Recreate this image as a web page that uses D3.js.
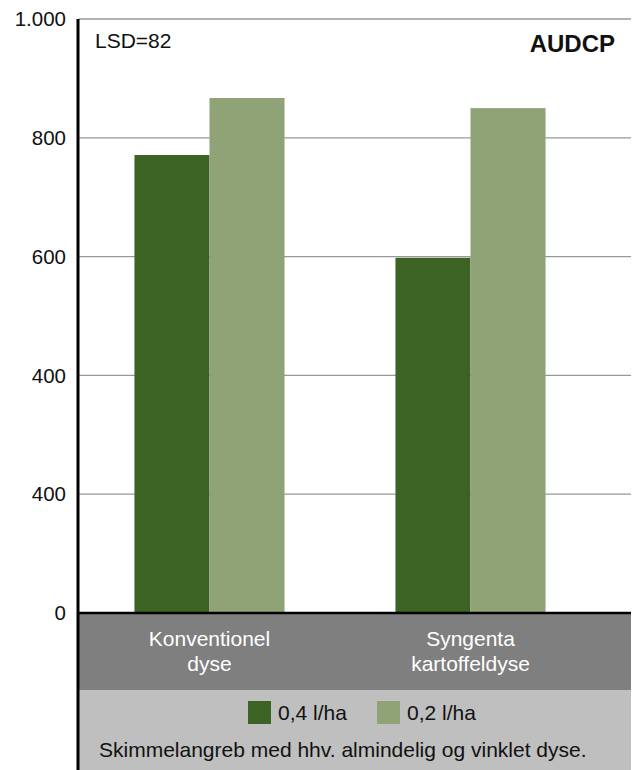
<!DOCTYPE html>
<html>
<head>
<meta charset="utf-8">
<script src="https://cdn.jsdelivr.net/npm/d3@7"></script>
<style>
  body { margin: 0; background: #fff; }
  text { font-family: "Liberation Sans", Arial, sans-serif; }
</style>
</head>
<body>
<div id="chart"></div>
<script>
// Chart data
var categories = [["Konventionel", "dyse"], ["Syngenta", "kartoffeldyse"]];
var seriesNames = ["0,4 l/ha", "0,2 l/ha"];
var dose04 = [771, 598];
var dose02 = [867, 850];
var tickValues = [0, 200, 400, 600, 800, 1000];
var tickLabels = ["0", "400", "400", "600", "800", "1.000"];

var svgWidth = 638;
var svgHeight = 770;
var colors = ["#3c6323", "#8fa377"];

var svg = d3.select("#chart")
    .append("svg")
    .attr("width", svgWidth)
    .attr("height", svgHeight);

// Scales
var yScale = d3.scaleLinear()
    .domain([0, 1000])
    .range([613, 19]);

var xScale = d3.scaleBand()
    .domain(d3.range(categories.length))
    .range([79, 601])
    .paddingInner(0.425)
    .paddingOuter(0.2125);

var xSub = d3.scaleBand()
    .domain([0, 1])
    .range([0, xScale.bandwidth()]);

var plotRight = 631;

// Gridlines
svg.append("g")
    .selectAll("line")
    .data(tickValues.slice(1))
    .enter()
    .append("line")
    .attr("x1", 79)
    .attr("x2", plotRight)
    .attr("y1", d => yScale(d))
    .attr("y2", d => yScale(d))
    .attr("stroke", "#999")
    .attr("stroke-width", 1.3);

// Bars
var rows = categories.map((c, i) => [dose04[i], dose02[i]]);
var groups = svg.selectAll(".grp")
    .data(rows)
    .enter()
    .append("g")
    .attr("transform", (d, i) => `translate(${xScale(i)},0)`);

groups.selectAll("rect")
    .data(d => d)
    .enter()
    .append("rect")
    .attr("x", (d, j) => xSub(j))
    .attr("width", xSub.bandwidth())
    .attr("y", d => yScale(d))
    .attr("height", d => yScale(0) - yScale(d))
    .attr("fill", (d, j) => colors[j]);

// Category band and legend band
svg.append("rect")
    .attr("x", 79).attr("y", 613)
    .attr("width", plotRight - 79).attr("height", 77)
    .attr("fill", "#7f7f7f");
svg.append("rect")
    .attr("x", 79).attr("y", 690)
    .attr("width", plotRight - 79).attr("height", 80)
    .attr("fill", "#bfbfbf");

// Zero line and y axis line
svg.append("line")
    .attr("x1", 78).attr("x2", plotRight)
    .attr("y1", yScale(0)).attr("y2", yScale(0))
    .attr("stroke", "#000").attr("stroke-width", 2.5);
svg.append("line")
    .attr("x1", 78).attr("x2", 78)
    .attr("y1", yScale(1000)).attr("y2", svgHeight)
    .attr("stroke", "#000").attr("stroke-width", 3);

// Y tick labels
svg.append("g")
    .selectAll("text")
    .data(tickValues)
    .enter()
    .append("text")
    .attr("x", 66)
    .attr("y", d => yScale(d))
    .attr("dy", "0.35em")
    .attr("text-anchor", "end")
    .style("font-size", "20.5px")
    .attr("fill", "#111")
    .text((d, i) => tickLabels[i]);

// Category labels
var catText = svg.append("g")
    .selectAll("text")
    .data(categories)
    .enter()
    .append("text")
    .attr("x", (d, i) => xScale(i) + xScale.bandwidth() / 2)
    .attr("y", 646)
    .attr("text-anchor", "middle")
    .attr("fill", "#fff")
    .style("font-size", "21px");
catText.selectAll("tspan")
    .data(d => d)
    .enter()
    .append("tspan")
    .attr("x", function () { return d3.select(this.parentNode).attr("x"); })
    .attr("dy", (d, k) => k === 0 ? 0 : 25)
    .text(d => d);

// Legend
var legendX = [248, 377];
var legend = svg.selectAll(".leg")
    .data(seriesNames)
    .enter()
    .append("g")
    .attr("transform", (d, i) => `translate(${legendX[i]},701)`);
legend.append("rect")
    .attr("width", 23).attr("height", 23)
    .attr("fill", (d, i) => colors[i]);
legend.append("text")
    .attr("x", 30).attr("y", 12)
    .attr("dy", "0.35em")
    .style("font-size", "21px")
    .attr("fill", "#111")
    .text(d => d);

// Footer note
svg.append("text")
    .attr("x", 99).attr("y", 757)
    .style("font-size", "21px")
    .attr("fill", "#111")
    .text("Skimmelangreb med hhv. almindelig og vinklet dyse.");

// Annotations
svg.append("text")
    .attr("x", 95).attr("y", 48)
    .style("font-size", "21px")
    .attr("fill", "#111")
    .text("LSD=82");
svg.append("text")
    .attr("x", 615).attr("y", 52)
    .attr("text-anchor", "end")
    .style("font-size", "24px")
    .style("font-weight", "bold")
    .attr("fill", "#111")
    .text("AUDCP");
</script>
</body>
</html>
